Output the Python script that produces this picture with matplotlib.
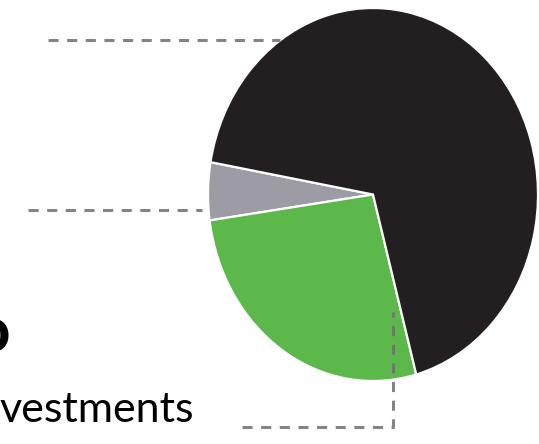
import matplotlib
matplotlib.use("Agg")
import matplotlib.pyplot as plt

# slice data, read counter-clockwise from the upper-left boundary
labels = ["Other", "Investments", "Main"]
shares = [5, 27, 68]
colors = ["#9d9ba3", "#5db84b", "#231f20"]

W, H, DPI = 539, 444, 100
fig = plt.figure(figsize=(W / DPI, H / DPI), dpi=DPI)

# pie sits in its own axes so it can be drawn as a slightly tall ellipse
pie_box = (208, 8, 538, 381)  # left, top, right, bottom in pixels
pax = fig.add_axes([pie_box[0] / W, 1 - pie_box[3] / H,
                    (pie_box[2] - pie_box[0]) / W, (pie_box[3] - pie_box[1]) / H])
pax.pie(shares, colors=colors, startangle=170, counterclock=True,
        wedgeprops=dict(edgecolor="white", linewidth=1.6))
pax.set_aspect("auto")
pax.set_xlim(-1, 1)
pax.set_ylim(-1, 1)
pax.set_axis_off()

# overlay in pixel coordinates for the leader lines and the clipped text
ax = fig.add_axes([0, 0, 1, 1], facecolor="none")
ax.set_xlim(0, W)
ax.set_ylim(H, 0)
ax.set_axis_off()

dash = dict(color="#6f6f6f", lw=2.2, ls=(0, (3.3, 2.8)), alpha=0.85,
            solid_capstyle="butt")
ax.plot([48, 280], [40, 40], **dash)
ax.plot([28, 202], [210, 210], **dash)
ax.plot([242, 393, 393], [427, 427, 312], **dash)

ax.text(0, 422, "vestments", fontsize=31, family="Lato", color="black",
        ha="left", va="baseline")
ax.text(10, 352, "o", fontsize=46, family="Lato", fontweight="bold",
        color="black", ha="right", va="baseline")

fig.savefig("out.png", dpi=DPI)
